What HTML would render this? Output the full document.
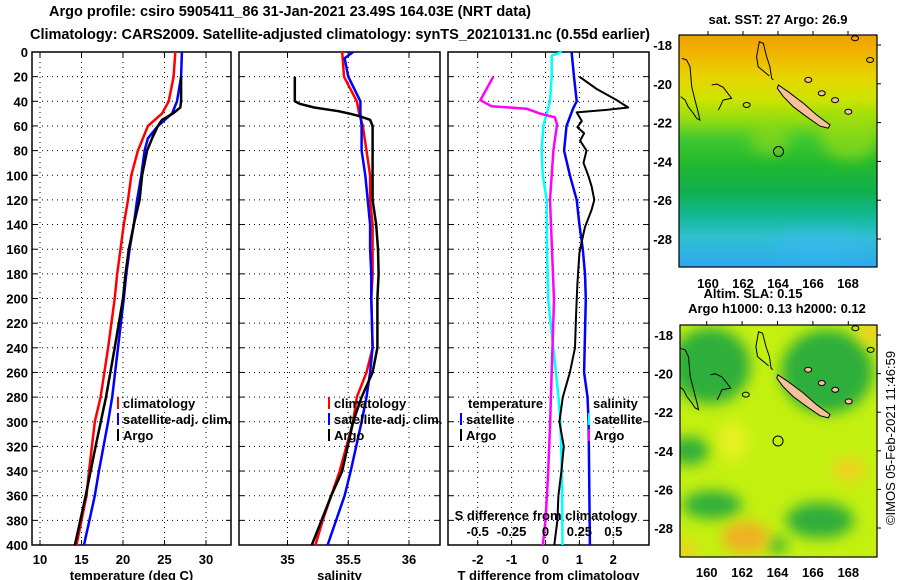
<!DOCTYPE html>
<html><head><meta charset="utf-8"><title>Argo profile</title>
<style>
html,body{margin:0;padding:0;background:#fff;}
svg{display:block;font-family:"Liberation Sans",sans-serif;font-weight:bold;}
</style></head>
<body>
<svg id="fig" width="900" height="580" viewBox="0 0 900 580" xmlns="http://www.w3.org/2000/svg">
<defs>
<linearGradient id="sstGrad" x1="0" y1="0" x2="0" y2="1">
<stop offset="0" stop-color="#f0a000"/><stop offset="0.08" stop-color="#f0b400"/>
<stop offset="0.18" stop-color="#e8d400"/><stop offset="0.28" stop-color="#cce400"/>
<stop offset="0.37" stop-color="#90dc10"/><stop offset="0.45" stop-color="#40c830"/>
<stop offset="0.56" stop-color="#20b830"/><stop offset="0.68" stop-color="#10b050"/>
<stop offset="0.77" stop-color="#10b890"/><stop offset="0.87" stop-color="#30c0d0"/>
<stop offset="1" stop-color="#30a8f0"/>
</linearGradient>
<filter id="blur" x="-50%" y="-50%" width="200%" height="200%"><feGaussianBlur stdDeviation="7"/></filter>
<clipPath id="clipTop"><rect x="679" y="35" width="198" height="232"/></clipPath>
<clipPath id="clipBot"><rect x="680" y="325" width="197" height="232"/></clipPath>
</defs>
<g id="root"></g>
</svg>
<script>
// ---------- data ----------
const depthTicks = [0,20,40,60,80,100,120,140,160,180,200,220,240,260,280,300,320,340,360,380,400];
// Panel 1: temperature
const climTDepth = [0,20,40,50,60,80,100,120,140,160,180,200,240,280,300,340,360,400];
const climTVal   = [26.3,26.1,25.5,24.7,23.0,21.8,21.0,20.6,20.1,19.7,19.3,19.0,18.2,17.3,16.6,15.9,15.6,14.4];
const satTDepth  = [0,20,40,50,60,70,80,100,120,140,160,180,200,240,280,300,340,360,400];
const satTVal    = [27.1,27.0,26.5,25.9,24.2,23.0,22.6,22.2,21.7,21.3,20.8,20.4,20.1,19.4,18.7,18.2,17.1,16.6,15.3];
const argoTDepth = [20,40,45,50,55,60,70,80,100,120,140,160,180,200,240,280,320,360,400];
const argoTVal   = [27.0,27.0,26.9,26.0,24.7,24.2,23.5,22.9,22.3,22.0,21.3,20.7,20.3,20.0,19.0,17.95,16.7,15.5,14.2];
// Panel 2: salinity
const climSDepth = [0,20,40,50,60,80,100,120,140,160,180,200,240,260,280,300,340,360,380,400];
const climSVal   = [35.45,35.465,35.57,35.59,35.62,35.65,35.68,35.68,35.70,35.70,35.70,35.69,35.70,35.65,35.57,35.54,35.43,35.36,35.29,35.23];
const satSDepth  = [0,5,20,40,50,60,80,100,120,140,160,180,200,240,260,280,300,340,360,400];
const satSVal    = [35.54,35.47,35.50,35.60,35.60,35.61,35.61,35.64,35.66,35.68,35.68,35.69,35.69,35.70,35.68,35.65,35.61,35.52,35.47,35.33];
const argoSDepth = [20,40,42,45,48,50,52,55,60,80,100,120,140,160,180,200,240,260,280,300,340,360,380,400];
const argoSVal   = [35.06,35.06,35.10,35.22,35.42,35.51,35.59,35.68,35.70,35.70,35.70,35.70,35.73,35.745,35.75,35.74,35.74,35.70,35.61,35.54,35.45,35.36,35.28,35.20];
// Panel 3: differences from climatology
const satDTDepth  = [0,20,40,46,60,80,100,120,140,160,180,200,260,280,300,400];
const satDTVal    = [0.77,0.84,0.92,0.81,0.62,0.55,0.72,0.92,1.0,1.10,1.165,1.19,1.14,1.24,1.27,1.31];
const argoDTDepth = [20,30,39,45,47,49,56,61,66,72,80,90,100,109,120,128,142,150,163,188,201,215,240,260,280,300,320,340,360,380,400];
const argoDTVal   = [1.0,1.51,2.10,2.44,1.8,0.92,1.07,0.94,1.14,1.02,1.21,1.12,1.26,1.36,1.44,1.36,1.165,1.10,1.0,0.94,0.92,0.90,0.87,0.72,0.51,0.41,0.54,0.47,0.38,0.35,0.26];
const satDSDepth  = [0,3,20,40,55,60,80,100,120,160,201,280,300,340,400];
const satDSVal    = [0.12,0.046,0.046,0.033,-0.004,-0.016,-0.028,-0.02,0.009,0.01,0.02,0.096,0.11,0.12,0.125];
const argoDSDepth = [20,39,44,46,50,53,59,80,120,201,280,300,340,360,380,400];
const argoDSVal   = [-0.385,-0.48,-0.40,-0.14,-0.04,0.07,0.085,0.058,0.033,0.063,0.04,0.035,0.02,0.01,0,-0.02];
// axis ticks
const tempTicks = [10,15,20,25,30];
const salTicks = [35,35.5,36];
const salTickLabels = ["35","35.5","36"];
const dTTicks = [-2,-1,0,1,2];
const dSTicks = [-0.5,-0.25,0,0.25,0.5];
const dSTickLabels = ["-0.5","-0.25","0","0.25","0.5"];
const latTicks = [-18,-20,-22,-24,-26,-28];
const lonTicks = [160,162,164,166,168];
const argoLon = 164.03, argoLat = -23.49;

// ---------- axes ----------
const TOP=52, BOT=545;
const yD = d => TOP + d*(BOT-TOP)/400;
const xT = t => 40 + (t-10)*8.3;
const xS = s => 287.5 + (s-35)*121.5;
const xDT = t => 545.5 + t*33.9;
const xDS = s => 545.5 + s*135.6;
const mapTop = {x: lon => 708 + (lon-160)*17.5, y: lat => 45 + (-18-lat)*19.4};
const mapBot = {x: lon => 706.7 + (lon-160)*17.7, y: lat => 335 + (-18-lat)*19.3};

const NS="http://www.w3.org/2000/svg";
const root=document.getElementById('root');
function el(tag, attrs, parent){
  const e=document.createElementNS(NS,tag);
  for(const k in attrs) e.setAttribute(k,attrs[k]);
  (parent||root).appendChild(e); return e;
}
function txt(x,y,s,size,anchor,parent){
  const t=el('text',{x:x,y:y,'font-size':size||13,'text-anchor':anchor||'middle',fill:'#000'},parent);
  t.textContent=s; return t;
}

// titles
let t1=txt(290,16,"Argo profile: csiro 5905411_86 31-Jan-2021 23.49S 164.03E (NRT data)",14.5);


let t2=txt(340,39,"Climatology: CARS2009. Satellite-adjusted climatology: synTS_20210131.nc (0.55d earlier)",14.5);
t2.setAttribute('textLength','620');



// depth labels
const depthAxis=el('g',{});


depthTicks.forEach(d=>{ txt(28,yD(d)+5,String(d),13,'end',depthAxis); });

function panel(name,x0,x1,xticks,xfn,labels,xlabel){
  const g=el('g',{});
  
  
  depthTicks.slice(1,-1).forEach(d=>{
    el('line',{x1:x0,x2:x1,y1:yD(d),y2:yD(d),stroke:'#000','stroke-width':1,'stroke-dasharray':'1,4'},g);
    el('line',{x1:x0,x2:x0+5,y1:yD(d),y2:yD(d),stroke:'#000'},g);
    el('line',{x1:x1-5,x2:x1,y1:yD(d),y2:yD(d),stroke:'#000'},g);
  });
  xticks.forEach((v,i)=>{
    const x=xfn(v);
    el('line',{x1:x,x2:x,y1:TOP,y2:BOT,stroke:'#000','stroke-dasharray':'1,4'},g);
    el('line',{x1:x,x2:x,y1:BOT-5,y2:BOT,stroke:'#000'},g);
    el('line',{x1:x,x2:x,y1:TOP,y2:TOP+5,stroke:'#000'},g);
    txt(x,564,labels[i],13,'middle',g);
  });
  el('rect',{x:x0,y:TOP,width:x1-x0,height:BOT-TOP,fill:'none',stroke:'#000','stroke-width':1.5},g);
  const xl=txt((x0+x1)/2,580,xlabel,13,'middle',g);
  
  
  return g;
}
function series(name,depths,vals,xfn,color,w,parent){
  const pts=depths.map((d,i)=>xfn(vals[i]).toFixed(1)+','+yD(d).toFixed(1)).join(' ');
  const p=el('polyline',{points:pts,fill:'none',stroke:color,'stroke-width':w,'stroke-linejoin':'round'},parent);
  
  
}
function legend(x,y,color,label,parent){
  const g=el('g',{},parent);
  
  
  if(color) el('rect',{x:x,y:y-11,width:2,height:12,fill:color},g);
  txt(x+6,y,label,13,'start',g);
}

const p1=panel('temperature-panel',32,231,tempTicks,xT,tempTicks.map(String),'temperature (deg C)');
series('climatology-temperature-line',climTDepth,climTVal,xT,'#ff0000',2.5,p1);
series('satellite-temperature-line',satTDepth,satTVal,xT,'#0000ff',2.5,p1);
series('argo-temperature-line',argoTDepth,argoTVal,xT,'#000000',2.5,p1);
legend(117,408,'#ff0000','climatology',p1);
legend(117,424,'#0000ff','satellite-adj. clim.',p1);
legend(117,440,'#000000','Argo',p1);

const p2=panel('salinity-panel',239,440,salTicks,xS,salTickLabels,'salinity');
series('climatology-salinity-line',climSDepth,climSVal,xS,'#ff0000',2.5,p2);
series('satellite-salinity-line',satSDepth,satSVal,xS,'#0000ff',2.5,p2);
series('argo-salinity-line',argoSDepth,argoSVal,xS,'#000000',2.5,p2);
legend(328,408,'#ff0000','climatology',p2);
legend(328,424,'#0000ff','satellite-adj. clim.',p2);
legend(328,440,'#000000','Argo',p2);

const p3=panel('difference-panel',448,649,dTTicks,xDT,dTTicks.map(String),'T difference from climatology');
series('satellite-salinity-diff-line',satDSDepth,satDSVal,xDS,'#00ffff',2.5,p3);
series('argo-salinity-diff-line',argoDSDepth,argoDSVal,xDS,'#ff00ff',2.5,p3);
series('satellite-temperature-diff-line',satDTDepth,satDTVal,xDT,'#0000ff',2.5,p3);
series('argo-temperature-diff-line',argoDTDepth,argoDTVal,xDT,'#000000',2,p3);
legend(462,408,null,'temperature',p3);
legend(460,424,'#0000ff','satellite',p3);
legend(460,440,'#000000','Argo',p3);
legend(587,408,null,'salinity',p3);
legend(588,424,'#00ffff','satellite',p3);
legend(588,440,'#ff00ff','Argo',p3);
const sAxis=el('g',{},p3);


txt(546,520,'S difference from climatology',13,'middle',sAxis);
dSTicks.forEach((v,i)=>{ txt(xDS(v),536,dSTickLabels[i],13,'middle',sAxis); });

// ---------- maps ----------
const coastNC=[[164.02,-20.06],[164.59,-20.41],[165.45,-21.0],[166.21,-21.61],[166.97,-22.12],[166.87,-22.29],[166.4,-22.18],[165.64,-21.7],[164.87,-21.18],[164.30,-20.66],[163.96,-20.23]];
const reefN=[[163.73,-19.8],[163.64,-19.72],[163.54,-19.12],[163.35,-18.6],[163.16,-17.91],[162.93,-17.83],[162.78,-18.6],[162.87,-19.12],[163.5,-19.6]];
const reefW=[[158.44,-20.66],[158.69,-20.84],[158.87,-21.18],[159.16,-21.52],[159.35,-21.78],[159.54,-21.87],[159.45,-21.52],[159.26,-20.84],[159.07,-20.15],[158.97,-19.12],[158.78,-18.77],[158.5,-18.69]];
const reefC=[[160.21,-20.06],[160.5,-20.01],[160.87,-20.18],[161.07,-20.41],[161.35,-20.75],[160.86,-20.84],[160.69,-21.18],[160.59,-21.35]];
const smallIsl=[[165.73,-19.8],[166.5,-20.49],[167.26,-20.84],[168.02,-21.44],[168.4,-17.65],[169.26,-18.77],[162.21,-21.09]];

function drawMap(name,m,clipId,x0,y0,w,h,fillFn,lonLabelY){
  const g=el('g',{});
  
  
  const inner=el('g',{'clip-path':'url(#'+clipId+')'},g);
  fillFn(inner);
  const pts=a=>a.map(p=>m.x(p[0]).toFixed(1)+','+m.y(p[1]).toFixed(1)).join(' ');
  el('polyline',{points:pts(reefN),fill:'none',stroke:'#000','stroke-width':1},inner);
  el('polyline',{points:pts(reefW),fill:'none',stroke:'#000','stroke-width':1},inner);
  el('polyline',{points:pts(reefC),fill:'none',stroke:'#000','stroke-width':1},inner);
  const nc=el('polygon',{points:pts(coastNC),fill:'#f5c09a',stroke:'#000','stroke-width':1},inner);
  
  
  smallIsl.forEach((p,i)=>{ el('ellipse',{cx:m.x(p[0]),cy:m.y(p[1]),rx:3.5,ry:2.5,fill:i<4?'#f5c09a':'none',stroke:'#000','stroke-width':1},inner); });
  const c=el('circle',{cx:m.x(argoLon),cy:m.y(argoLat),r:5,fill:'none',stroke:'#000','stroke-width':1},inner);
  
  
  el('rect',{x:x0,y:y0,width:w,height:h,fill:'none',stroke:'#000','stroke-width':1.2},g);
  latTicks.forEach(l=>{
    const y=m.y(l);
    el('line',{x1:x0+w,x2:x0+w+4,y1:y,y2:y,stroke:'#000'},g);
    txt(x0-7,y+5,String(l),13,'end',g);
  });
  lonTicks.forEach(l=>{
    const x=m.x(l);
    el('line',{x1:x,x2:x,y1:y0,y2:y0-4,stroke:'#000'},g);
    txt(x,lonLabelY,String(l),13,'middle',g);
  });
  return g;
}
drawMap('sst-map',mapTop,'clipTop',679,35,198,232,g=>{
  el('rect',{x:679,y:35,width:198,height:232,fill:'url(#sstGrad)'},g);
  el('ellipse',{cx:850,cy:135,rx:30,ry:25,fill:'#a8e010',opacity:0.6,filter:'url(#blur)'},g);
  el('ellipse',{cx:770,cy:140,rx:20,ry:15,fill:'#a8e010',opacity:0.5,filter:'url(#blur)'},g);
  el('ellipse',{cx:820,cy:245,rx:45,ry:15,fill:'#38b8f0',opacity:0.6,filter:'url(#blur)'},g);
},288);
drawMap('sla-map',mapBot,'clipBot',680,325,197,232,g=>{
  el('rect',{x:680,y:325,width:197,height:232,fill:'#c4f010'},g);
  const blobs=[[160.2,-19.6,40,38,'#2eae3a'],[166.8,-19.9,46,42,'#2eae3a'],[159.0,-24.0,20,14,'#2eae3a'],[160.3,-26.8,30,14,'#2eae3a'],[166.4,-27.6,34,18,'#2eae3a'],[164.0,-28.9,9,8,'#2eae3a'],[162.2,-28.5,24,16,'#f0b020'],[168.0,-25.0,16,12,'#f0d020'],[169.3,-17.8,12,14,'#f0d020'],[161.5,-23.5,14,20,'#e8f020'],[158.8,-29.1,12,10,'#f0d020']];
  blobs.forEach(b=>{ el('ellipse',{cx:mapBot.x(b[0]),cy:mapBot.y(b[1]),rx:b[2],ry:b[3],fill:b[4],filter:'url(#blur)'},g); });
},577);
let l1=txt(778,24,'sat. SST: 27 Argo: 26.9',13);


let l2=txt(753,298,'Altim. SLA: 0.15',13);


let l3=txt(777,313,'Argo h1000: 0.13 h2000: 0.12',13);


let cr=txt(0,0,'©IMOS 05-Feb-2021 11:46:59',13,'middle');
cr.setAttribute('transform','translate(895,438) rotate(-90)');
cr.setAttribute('font-weight','normal');


</script>
</body></html>
